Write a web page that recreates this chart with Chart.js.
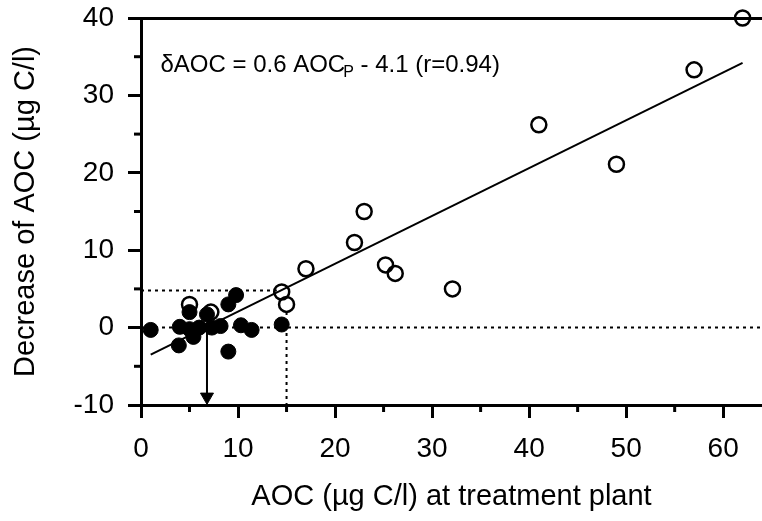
<!DOCTYPE html>
<html>
<head>
<meta charset="utf-8">
<script src="https://cdn.jsdelivr.net/npm/chart.js@4"></script>
<style>
  body { margin: 0; background: #fff; }
  #wrap { width: 762px; height: 521px; position: relative; }
</style>
</head>
<body>
<div id="wrap"><canvas id="aocChart"></canvas></div>
<script>
// open circles: AOC at plant vs decrease
const openX = [62, 57, 41, 49, 23, 22, 17, 25.2, 26.2, 32.1, 14.5, 15, 5, 7.2];
const openY = [40, 33.3, 26.2, 21.1, 15, 11, 7.6, 8.1, 7, 5, 4.6, 3, 3, 2];

// filled circles
const filledX = [1, 4, 3.9, 5, 5, 5.4, 6, 6.8, 7.3, 8.2, 9, 9.8, 9, 10.3, 11.4, 14.5];
const filledY = [-0.3, 0.1, -2.3, 2, -0.2, -1.2, 0, 1.7, 0, 0.2, 3, 4.2, -3.1, 0.3, -0.3, 0.4];

// regression line
const fitX = [1, 62];
const fitY = [-3.5, 34.2];

// dotted guide lines
const guideHX = [0, 14];
const guideHY = [4.8, 4.8];
const guideVX = [15, 15];
const guideVY = [2, -10];
const zeroX = [0, 64];
const zeroY = [0, 0];

// arrow down to x axis
const arrowX = [6.8, 6.8];
const arrowY = [-0.5, -9];
const arrowHeadX = [6.8];
const arrowHeadY = [-8.95];

const xTicks = [0, 10, 20, 30, 40, 50, 60];
const yTicks = [-10, 0, 10, 20, 30, 40];

const FONT = '"Liberation Sans", Arial, Helvetica, sans-serif';

function pts(xs, ys) {
    return xs.map((x, i) => ({ x: x, y: ys[i] }));
}

function lineSet(xs, ys, dash) {
    return {
        type: 'line',
        data: pts(xs, ys),
        borderColor: '#000',
        borderWidth: 2,
        borderDash: dash || [],
        pointRadius: 0,
        fill: false,
        tension: 0
    };
}

function noPad(s) {
    s.paddingLeft = 0;
    s.paddingRight = 0;
    s.paddingTop = 0;
    s.paddingBottom = 0;
}

// minor ticks + equation text
const extras = {
    id: 'extras',
    afterDraw(chart) {
        const ctx = chart.ctx;
        const xs = chart.scales.x, ys = chart.scales.y;
        ctx.save();
        ctx.strokeStyle = '#000';
        ctx.lineWidth = 3;
        for (let v = 5; v < 64; v += 10) {
            const px = xs.getPixelForValue(v);
            ctx.beginPath();
            ctx.moveTo(px, xs.top);
            ctx.lineTo(px, xs.top + 7);
            ctx.stroke();
        }
        for (let v = -5; v < 40; v += 10) {
            const py = ys.getPixelForValue(v);
            ctx.beginPath();
            ctx.moveTo(ys.right, py);
            ctx.lineTo(ys.right - 7, py);
            ctx.stroke();
        }

        // equation
        ctx.fillStyle = '#000';
        ctx.textBaseline = 'alphabetic';
        ctx.textAlign = 'left';
        let tx = xs.getPixelForValue(2);
        const ty = ys.getPixelForValue(33);
        ctx.font = '24px ' + FONT;
        const part1 = '\u03B4AOC = 0.6 AOC';
        ctx.fillText(part1, tx, ty);
        tx += ctx.measureText(part1).width - 2;
        ctx.font = '16px ' + FONT;
        ctx.fillText('P', tx, ty + 5);
        tx += ctx.measureText('P').width;
        ctx.font = '24px ' + FONT;
        ctx.fillText(' - 4.1 (r=0.94)', tx, ty);
        ctx.restore();
    }
};

const ctx = document.getElementById('aocChart').getContext('2d');
new Chart(ctx, {
    type: 'scatter',
    data: {
        datasets: [
            lineSet(zeroX, zeroY, [3, 4]),
            lineSet(guideHX, guideHY, [3, 4]),
            lineSet(guideVX, guideVY, [3, 4]),
            lineSet(fitX, fitY),
            lineSet(arrowX, arrowY),
            {
                data: pts(arrowHeadX, arrowHeadY),
                pointStyle: 'triangle',
                rotation: 180,
                pointRadius: 7.5,
                backgroundColor: '#000',
                borderColor: '#000',
                borderWidth: 1
            },
            {
                data: pts(openX, openY),
                pointRadius: 7.5,
                backgroundColor: 'rgba(0,0,0,0)',
                borderColor: '#000',
                borderWidth: 2.5
            },
            {
                data: pts(filledX, filledY),
                pointRadius: 7.5,
                backgroundColor: '#000',
                borderColor: '#000',
                borderWidth: 1
            }
        ]
    },
    options: {
        responsive: true,
        maintainAspectRatio: false,
        animation: false,
        layout: { padding: 0, autoPadding: false },
        clip: false,
        plugins: {
            legend: { display: false },
            tooltip: { enabled: false }
        },
        scales: {
            x: {
                type: 'linear',
                position: 'bottom',
                min: 0,
                max: 64,
                afterBuildTicks: s => { s.ticks = xTicks.map(v => ({ value: v })); },
                afterFit: s => { s.height = 116; noPad(s); },
                grid: { drawOnChartArea: false, tickLength: 13, tickWidth: 3, tickColor: '#000' },
                border: { display: true, color: '#000', width: 3 },
                ticks: {
                    color: '#000',
                    padding: 14,
                    maxRotation: 0,
                    font: { family: FONT, size: 28 }
                },
                title: {
                    display: true,
                    text: 'AOC (\u00B5g C/l) at treatment plant',
                    color: '#000',
                    font: { family: FONT, size: 29 },
                    padding: { top: 0, bottom: 7 }
                }
            },
            xTop: {
                type: 'linear',
                position: 'top',
                min: 0,
                max: 64,
                afterFit: s => { s.height = 18; noPad(s); },
                grid: { display: false, drawTicks: false },
                border: { display: true, color: '#000', width: 3 },
                ticks: { display: false }
            },
            y: {
                type: 'linear',
                min: -10,
                max: 40,
                afterBuildTicks: s => { s.ticks = yTicks.map(v => ({ value: v })); },
                afterFit: s => { s.width = 141; noPad(s); },
                grid: { drawOnChartArea: false, tickLength: 13, tickWidth: 3, tickColor: '#000' },
                border: { display: true, color: '#000', width: 3 },
                ticks: {
                    color: '#000',
                    padding: 14,
                    font: { family: FONT, size: 28 }
                },
                title: {
                    display: true,
                    text: 'Decrease of AOC (\u00B5g C/l)',
                    color: '#000',
                    font: { family: FONT, size: 29 },
                    padding: { top: 9, bottom: 0 }
                }
            }
        }
    },
    plugins: [extras]
});
</script>
</body>
</html>
